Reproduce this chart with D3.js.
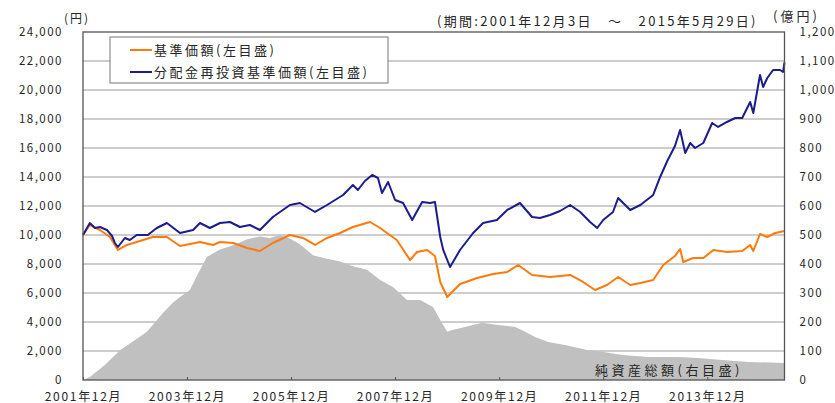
<!DOCTYPE html>
<html>
<head>
<meta charset="utf-8">
<script src="https://cdnjs.cloudflare.com/ajax/libs/d3/7.8.5/d3.min.js"></script>
<style>
  body { margin: 0; background: #fff; }
  svg text { font-family: "Noto Sans CJK JP", "Liberation Sans", sans-serif; fill: #262626; }
</style>
</head>
<body>
<script>
var width = 835, height = 403;

// 基準価額 (円)
var navData = [
  ["2001-12-03", 10000], ["2002-01-20", 10690], ["2002-04-01", 10345], ["2002-06-10", 9863],
  ["2002-08-05", 8966], ["2002-10-07", 9311], ["2002-12-15", 9518], ["2003-04-07", 9863],
  ["2003-07-15", 9863], ["2003-10-15", 9242], ["2004-03-03", 9518], ["2004-06-03", 9311],
  ["2004-07-22", 9518], ["2004-10-22", 9449], ["2005-01-28", 9104], ["2005-04-28", 8897],
  ["2005-07-28", 9449], ["2005-11-25", 10000], ["2006-02-24", 9794], ["2006-05-20", 9311],
  ["2006-08-12", 9794], ["2006-11-12", 10138], ["2007-02-10", 10552], ["2007-06-10", 10897],
  ["2007-08-20", 10483], ["2007-10-07", 10138], ["2007-12-15", 9656], ["2008-03-17", 8276],
  ["2008-05-05", 8828], ["2008-07-15", 8966], ["2008-09-08", 8552], ["2008-10-15", 6759],
  ["2008-12-03", 5724], ["2009-03-03", 6621], ["2009-07-01", 7035], ["2009-10-22", 7311],
  ["2010-01-28", 7449], ["2010-04-15", 7932], ["2010-07-22", 7242], ["2010-11-25", 7104],
  ["2011-04-15", 7242], ["2011-07-15", 6759], ["2011-10-07", 6207], ["2011-12-30", 6552],
  ["2012-03-17", 7104], ["2012-06-10", 6552], ["2012-08-20", 6690], ["2012-11-18", 6897],
  ["2013-01-28", 7932], ["2013-04-20", 8552], ["2013-05-26", 9035], ["2013-06-17", 8138],
  ["2013-08-25", 8414], ["2013-11-05", 8414], ["2014-01-15", 8966], ["2014-04-20", 8828],
  ["2014-08-05", 8897], ["2014-09-30", 9311], ["2014-10-22", 8897], ["2014-12-08", 10069],
  ["2015-01-28", 9863], ["2015-03-25", 10138], ["2015-05-29", 10276]
];

// 分配金再投資基準価額 (円)
var reinvData = [
  ["2001-12-03", 10000], ["2002-01-20", 10828], ["2002-02-25", 10483], ["2002-04-01", 10552],
  ["2002-05-20", 10345], ["2002-06-25", 9931], ["2002-07-15", 9449], ["2002-08-05", 9173],
  ["2002-09-23", 9793], ["2002-10-28", 9656], ["2002-12-15", 10000], ["2003-03-03", 10000],
  ["2003-05-05", 10483], ["2003-07-15", 10828], ["2003-10-15", 10138], ["2004-01-15", 10345],
  ["2004-03-03", 10828], ["2004-05-12", 10483], ["2004-07-22", 10828], ["2004-09-30", 10897],
  ["2004-12-08", 10552], ["2005-02-17", 10690], ["2005-04-28", 10345], ["2005-07-28", 11242],
  ["2005-11-25", 12069], ["2006-02-03", 12207], ["2006-05-20", 11587], ["2006-08-12", 12069],
  ["2006-12-03", 12759], ["2007-02-10", 13449], ["2007-03-17", 13104], ["2007-05-05", 13725],
  ["2007-06-25", 14139], ["2007-08-05", 13932], ["2007-09-02", 12897], ["2007-10-15", 13656],
  ["2007-12-03", 12414], ["2008-01-28", 12207], ["2008-04-01", 11035], ["2008-06-10", 12276],
  ["2008-08-05", 12207], ["2008-09-08", 12276], ["2008-10-15", 9863], ["2008-11-05", 8966],
  ["2008-12-23", 7793], ["2009-03-03", 8966], ["2009-06-03", 10138], ["2009-08-12", 10828],
  ["2009-11-17", 11035], ["2010-01-28", 11725], ["2010-04-28", 12207], ["2010-07-22", 11242],
  ["2010-09-15", 11173], ["2010-11-25", 11380], ["2011-02-03", 11656], ["2011-04-15", 12069],
  ["2011-06-25", 11587], ["2011-09-02", 10897], ["2011-10-22", 10483], ["2011-12-03", 11035],
  ["2012-02-10", 11587], ["2012-03-17", 12552], ["2012-06-10", 11725], ["2012-08-20", 12069],
  ["2012-11-18", 12760], ["2013-01-06", 14001], ["2013-02-25", 15104], ["2013-04-20", 16139],
  ["2013-05-26", 17243], ["2013-07-01", 15656], ["2013-08-05", 16346], ["2013-09-08", 16001],
  ["2013-11-05", 16346], ["2014-01-06", 17725], ["2014-02-17", 17449], ["2014-04-20", 17794],
  ["2014-06-17", 18070], ["2014-08-05", 18070], ["2014-09-30", 19173], ["2014-10-22", 18415],
  ["2014-12-08", 21036], ["2014-12-30", 20208], ["2015-01-28", 20828], ["2015-03-10", 21380],
  ["2015-04-28", 21380], ["2015-05-19", 21242], ["2015-05-29", 21900]
];

// 純資産総額 (億円)
var assetData = [
  ["2001-12-03", 0], ["2002-01-20", 10], ["2002-05-05", 52], ["2002-08-20", 103],
  ["2002-12-03", 138], ["2003-02-25", 166], ["2003-06-17", 231], ["2003-08-25", 266],
  ["2003-10-15", 286], ["2003-12-23", 310], ["2004-03-03", 379], ["2004-04-20", 424],
  ["2004-07-22", 450], ["2004-10-22", 465], ["2005-01-28", 485], ["2005-04-28", 495],
  ["2005-07-07", 490], ["2005-09-15", 500], ["2005-11-25", 488], ["2006-02-03", 468],
  ["2006-05-05", 430], ["2006-08-12", 418], ["2006-11-12", 409], ["2007-02-10", 392],
  ["2007-05-20", 380], ["2007-08-20", 345], ["2007-11-18", 321], ["2008-02-25", 276],
  ["2008-05-27", 276], ["2008-08-25", 252], ["2008-10-15", 207], ["2008-12-03", 166],
  ["2009-01-06", 172], ["2009-04-07", 183], ["2009-08-05", 197], ["2009-11-25", 190],
  ["2010-03-25", 183], ["2010-05-10", 172], ["2010-08-12", 148], ["2010-11-12", 131],
  ["2011-03-10", 121], ["2011-08-20", 103], ["2011-11-25", 97], ["2012-04-15", 86],
  ["2012-10-15", 79], ["2013-05-12", 79], ["2013-09-30", 76], ["2014-03-17", 69],
  ["2014-09-15", 62], ["2015-05-29", 59]
];

var leftTicks = [0, 2000, 4000, 6000, 8000, 10000, 12000, 14000, 16000, 18000, 20000, 22000, 24000];
var rightTicks = [0, 100, 200, 300, 400, 500, 600, 700, 800, 900, 1000, 1100, 1200];
var xTickDates = ["2001-12-03", "2003-12-03", "2005-12-03", "2007-12-03", "2009-12-03", "2011-12-03", "2013-12-03"];
var xTickLabels = ["2001年12月", "2003年12月", "2005年12月", "2007年12月", "2009年12月", "2011年12月", "2013年12月"];

var parse = d3.timeParse("%Y-%m-%d");

var plot = { left: 83, right: 784.5, top: 32, bottom: 380 };

var svg = d3.select("body").append("svg")
  .attr("width", width)
  .attr("height", height);

var x = d3.scaleTime()
  .domain([parse("2001-12-03"), parse("2015-05-29")])
  .range([plot.left, plot.right]);
var yL = d3.scaleLinear().domain([0, 24000]).range([plot.bottom, plot.top]);
var yR = d3.scaleLinear().domain([0, 1200]).range([plot.bottom, plot.top]);

// gridlines
svg.append("g").selectAll("line")
  .data(leftTicks.slice(1, -1))
  .enter().append("line")
  .attr("x1", plot.left).attr("x2", plot.right)
  .attr("y1", function(d) { return yL(d); })
  .attr("y2", function(d) { return yL(d); })
  .attr("stroke", "#9a9a9a")
  .attr("stroke-width", 1);

// net assets area
var area = d3.area()
  .x(function(d) { return x(parse(d[0])); })
  .y0(yR(0))
  .y1(function(d) { return yR(d[1]); });

svg.append("path")
  .datum(assetData)
  .attr("d", area)
  .attr("fill", "#c0c0c0");

var lineL = d3.line()
  .x(function(d) { return x(parse(d[0])); })
  .y(function(d) { return yL(d[1]); });

svg.append("path")
  .datum(navData)
  .attr("d", lineL)
  .attr("fill", "none")
  .attr("stroke", "#ff7a0a")
  .attr("stroke-width", 2)
  .attr("stroke-linejoin", "round");

svg.append("path")
  .datum(reinvData)
  .attr("d", lineL)
  .attr("fill", "none")
  .attr("stroke", "#1c1c8c")
  .attr("stroke-width", 2)
  .attr("stroke-linejoin", "round");

// frame
svg.append("rect")
  .attr("x", plot.left).attr("y", plot.top)
  .attr("width", plot.right - plot.left).attr("height", plot.bottom - plot.top)
  .attr("fill", "none")
  .attr("stroke", "#555")
  .attr("stroke-width", 1.3);

// axes
var fmt = d3.format(",");

var leftAxis = svg.append("g")
  .attr("transform", "translate(" + plot.left + ",0)")
  .call(d3.axisLeft(yL).tickValues(leftTicks).tickFormat(fmt).tickSize(0).tickPadding(20));

var rightAxis = svg.append("g")
  .attr("transform", "translate(" + plot.right + ",0)")
  .call(d3.axisRight(yR).tickValues(rightTicks).tickFormat(fmt).tickSize(0).tickPadding(15));

var bottomAxis = svg.append("g")
  .attr("transform", "translate(0," + plot.bottom + ")")
  .call(d3.axisBottom(x)
    .tickValues(xTickDates.map(parse))
    .tickFormat(function(d, i) { return xTickLabels[i]; })
    .tickSizeInner(-3).tickSizeOuter(0).tickPadding(12));

[leftAxis, rightAxis, bottomAxis].forEach(function(g) {
  g.select(".domain").remove();
  g.selectAll("text")
    .attr("fill", "#262626")
    .style("font-size", "11.5px")
    .style("letter-spacing", "1.5px")
    .style("font-family", "'Noto Sans CJK JP', sans-serif");
});
bottomAxis.selectAll("line").attr("stroke", "#555");
bottomAxis.selectAll("text").style("font-size", "12px").style("letter-spacing", "1.7px");

// unit labels and period
svg.append("text").attr("x", 64).attr("y", 23).style("font-size", "12px").style("letter-spacing", "2px").text("(円)");
svg.append("text").attr("x", 773).attr("y", 21).style("font-size", "13px").style("letter-spacing", "3px").text("(億円)");
svg.append("text").attr("x", 437).attr("y", 26).style("font-size", "13px").style("letter-spacing", "2.3px")
  .text("(期間:2001年12月3日　～　2015年5月29日)");

// legend
var legend = svg.append("g");
legend.append("rect")
  .attr("x", 110).attr("y", 37).attr("width", 278).attr("height", 46)
  .attr("fill", "#fff").attr("stroke", "#777").attr("stroke-width", 1);

var legendItems = [
  { label: "基準価額(左目盛)", color: "#ff7a0a", y: 50 },
  { label: "分配金再投資基準価額(左目盛)", color: "#1c1c8c", y: 72 }
];
legend.selectAll("g.item")
  .data(legendItems)
  .enter().append("g")
  .attr("class", "item")
  .each(function(d) {
    var g = d3.select(this);
    g.append("line")
      .attr("x1", 130).attr("x2", 152)
      .attr("y1", d.y).attr("y2", d.y)
      .attr("stroke", d.color).attr("stroke-width", 2);
    g.append("text")
      .attr("x", 154).attr("y", d.y + 4.5)
      .style("font-size", "13px")
      .style("letter-spacing", "2.5px")
      .text(d.label);
  });

svg.append("text")
  .attr("x", 595).attr("y", 375)
  .style("font-size", "13px")
  .style("letter-spacing", "3.5px")
  .text("純資産総額(右目盛)");
</script>
</body>
</html>
